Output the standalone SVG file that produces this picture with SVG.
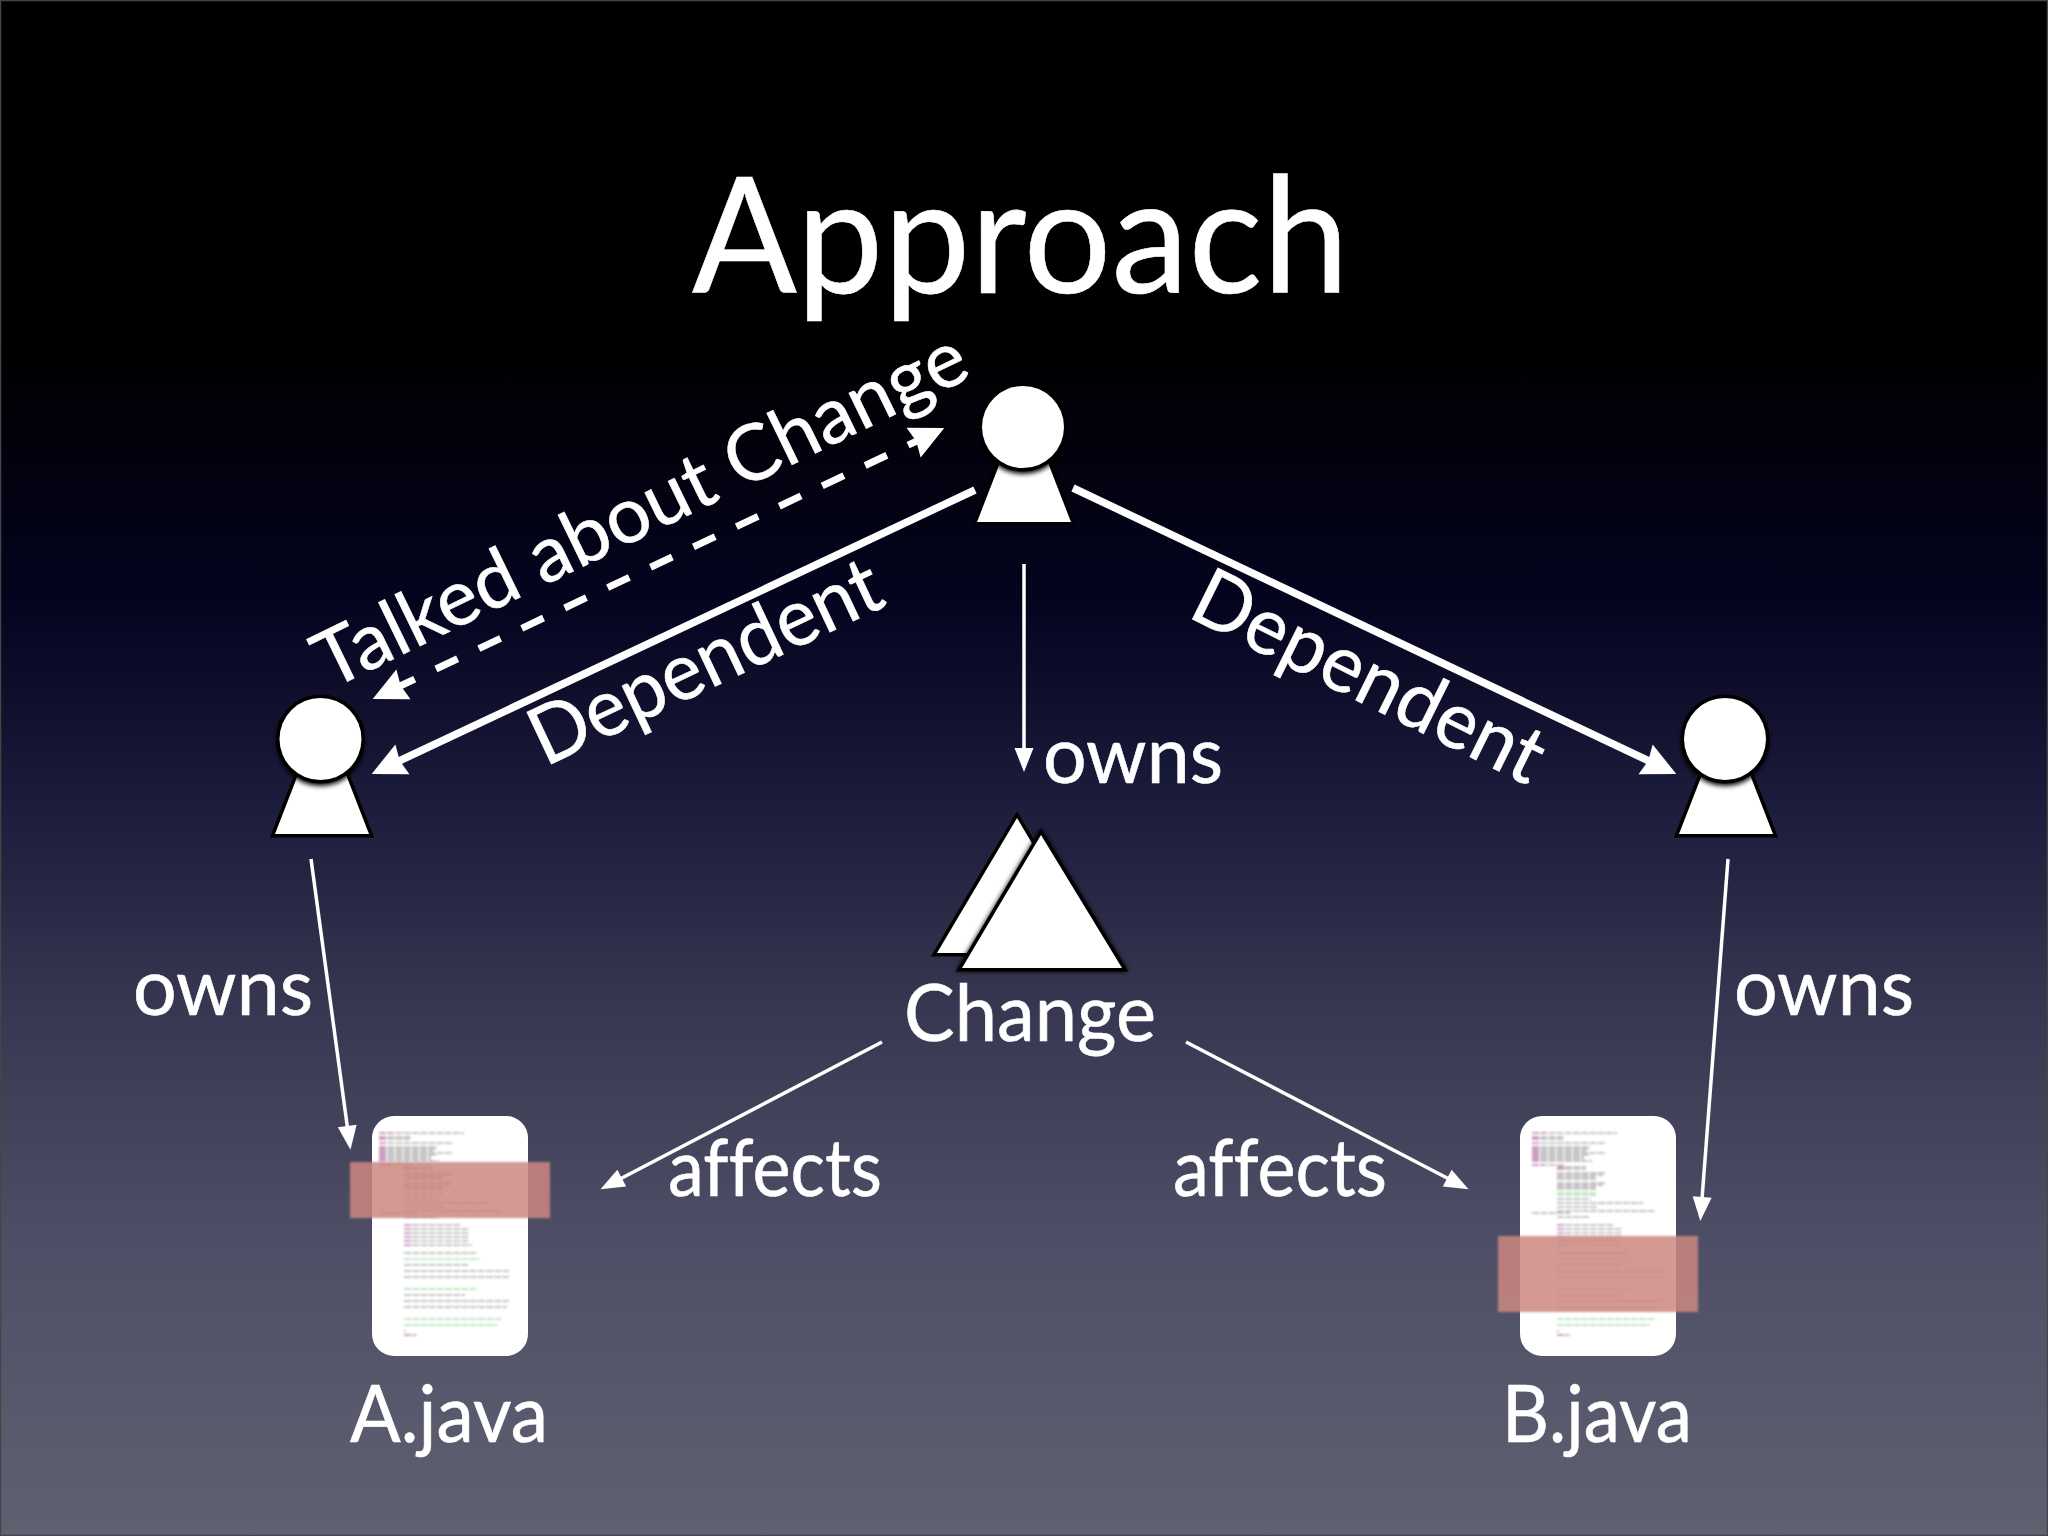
<svg xmlns="http://www.w3.org/2000/svg" width="2048" height="1536" viewBox="0 0 2048 1536">
<style>
text{font-family:"Lato","Liberation Sans",sans-serif;fill:#fff;font-variant-ligatures:none;stroke:#fff;stroke-width:.6}
.t{font-size:80px}
.p{fill:#fff;stroke:#000;stroke-width:7;stroke-linejoin:miter;paint-order:stroke}
.g{fill:#000;stroke:#000;stroke-width:7}
.c{fill:none;stroke:#fff;stroke-linecap:butt}
.b{stroke-width:7.500}
.n{stroke-width:3.500}
.d{stroke-width:7;stroke-dasharray:24 23.5;stroke-dashoffset:5.5}
.code{fill:none;stroke-width:.9;stroke-dasharray:7 1.2;opacity:.75}
</style>
<defs>
<linearGradient id="bg" x1="0" y1="0" x2="0" y2="1">
<stop offset="0" stop-color="#000"/><stop offset=".22" stop-color="#000"/><stop offset=".39" stop-color="#04041f"/><stop offset=".52" stop-color="#1b1b3b"/><stop offset=".65" stop-color="#363650"/><stop offset=".81" stop-color="#4e4f66"/><stop offset="1" stop-color="#5f6070"/>
</linearGradient>
<filter id="soft" x="-5%" y="-5%" width="110%" height="110%"><feGaussianBlur stdDeviation="1"/></filter>
<filter id="sh" x="-20%" y="-20%" width="140%" height="140%"><feGaussianBlur stdDeviation="2.500"/></filter>
<marker id="big" markerUnits="userSpaceOnUse" markerWidth="44" markerHeight="40" viewBox="-10 -20 44 40" refX="0" refY="0" orient="auto-start-reverse"><path d="M-6,-16.500L28,0L-6,16.500L-3,0Z" fill="#fff"/></marker>
<marker id="small" markerUnits="userSpaceOnUse" markerWidth="32" markerHeight="26" viewBox="-6 -13 32 26" refX="0" refY="0" orient="auto"><path d="M-2,-9.500L22,0L-2,9.500Z" fill="#fff"/></marker>
<g id="code" class="code" filter="url(#soft)">
<path stroke="#555" d="M1532 1133H1617M1532 1137H1564M1532 1139H1563M1532 1143H1605M1532 1147H1590M1532 1149H1590M1532 1151H1586M1532 1153H1605M1532 1155H1590M1532 1157H1584M1532 1159H1584M1532 1161H1592M1532 1165H1565M1557 1167H1586M1557 1169H1586M1557 1173H1605M1557 1175H1603M1557 1177H1595M1557 1179H1596M1557 1183H1605M1557 1185H1603M1557 1187H1596M1557 1189H1596M1557 1199H1591M1557 1203H1643M1557 1207H1598M1557 1211H1655M1532 1213H1570M1557 1217H1590M1557 1225H1613M1557 1229H1622M1557 1233H1622M1557 1237H1622M1557 1241H1622M1557 1245H1625M1557 1253H1629M1557 1265H1622M1557 1271H1662M1557 1277H1662M1557 1295H1618M1557 1301H1662M1557 1307H1660M1557 1331H1559M1557 1335H1570"/>
<path stroke="#4db84d" d="M1557 1193H1596M1557 1195H1596M1557 1259H1633M1557 1289H1630M1557 1319H1655M1557 1325H1650"/>
<path stroke="#c63ea8" d="M1532 1133H1546M1532 1137H1540M1532 1139H1540M1532 1143H1540M1532 1147H1540M1532 1149H1540M1532 1151H1540M1532 1153H1540M1532 1155H1540M1532 1157H1540M1532 1159H1540M1532 1161H1540M1532 1165H1544M1557 1167H1566M1557 1169H1566M1557 1225H1566M1557 1229H1566M1557 1233H1566M1557 1237H1566M1557 1241H1566M1557 1245H1566M1557 1335H1566"/>
</g>
</defs>
<rect id="background" width="2048" height="1536" fill="url(#bg)"/>
<rect id="frame" x=".5" y=".5" width="2047" height="1535" fill="none" stroke="#454545" stroke-width="1.500"/>
<text id="title" x="692" y="293" font-size="162" textLength="657" lengthAdjust="spacingAndGlyphs">Approach</text>

<g id="connectors">
<path class="c b" d="M975 490L397 762" marker-end="url(#big)"/>
<path class="c b" d="M1073 488L1651 762" marker-end="url(#big)"/>
<path class="c d" d="M398 687L919 440" marker-start="url(#big)" marker-end="url(#big)"/>
<path class="c n" d="M1024 564V750" marker-end="url(#small)"/>
<path class="c n" d="M311 859L347.500 1128" marker-end="url(#small)"/>
<path class="c n" d="M1728 859L1702 1199" marker-end="url(#small)"/>
<path class="c n" d="M882 1042L620 1179" marker-end="url(#small)"/>
<path class="c n" d="M1186 1042L1449 1179" marker-end="url(#small)"/>
</g>

<g id="person-top"><path class="p" d="M1024 401L1071 522H977Z"/><circle cx="1023" cy="430" r="44" filter="url(#sh)"/><circle class="p" cx="1023" cy="427" r="41"/></g>
<g id="person-left"><path class="p" d="M322 713L369 834H275Z"/><circle cx="320.500" cy="742" r="44" filter="url(#sh)"/><circle class="p" cx="320.500" cy="739" r="41"/></g>
<g id="person-right"><path class="p" d="M1726 713L1773 834H1679Z"/><circle cx="1725" cy="742" r="44" filter="url(#sh)"/><circle class="p" cx="1725" cy="739" r="41"/></g>

<g id="change">
<path class="p" d="M1017 818L1097 953H937Z"/>
<path class="g" d="M1041 835L1122 968H962Z" filter="url(#sh)"/>
<path class="p" d="M1041 835L1122 968H962Z"/>
<text class="t" x="904" y="1041" textLength="252" lengthAdjust="spacingAndGlyphs">Change</text>
</g>

<g id="file-a">
<rect x="372" y="1116" width="156" height="240" rx="22" fill="#fff"/>
<use href="#code" transform="translate(-1153 0)"/>
<rect x="350" y="1162" width="200" height="56" fill="#cd8780" fill-opacity=".85" filter="url(#soft)"/>
<text class="t" x="350" y="1442" textLength="198" lengthAdjust="spacingAndGlyphs">A.java</text>
</g>
<g id="file-b">
<rect x="1520" y="1116" width="156" height="240" rx="22" fill="#fff"/>
<use href="#code"/>
<rect x="1498" y="1236" width="200" height="76" fill="#cd8780" fill-opacity=".85" filter="url(#soft)"/>
<text class="t" x="1502" y="1442" textLength="190" lengthAdjust="spacingAndGlyphs">B.java</text>
</g>

<g id="labels">
<text class="t" x="1043" y="783" textLength="180" lengthAdjust="spacingAndGlyphs">owns</text>
<text class="t" x="133" y="1015" textLength="180" lengthAdjust="spacingAndGlyphs">owns</text>
<text class="t" x="1734" y="1015" textLength="180" lengthAdjust="spacingAndGlyphs">owns</text>
<text class="t" x="668" y="1196" textLength="214" lengthAdjust="spacingAndGlyphs">affects</text>
<text class="t" x="1173" y="1196" textLength="214" lengthAdjust="spacingAndGlyphs">affects</text>
<text transform="translate(330 690) rotate(-26)" textLength="716" lengthAdjust="spacingAndGlyphs" style="font-size:78px">Talked about Change</text>
<text class="t" transform="translate(545 767) rotate(-25.3)" textLength="380" lengthAdjust="spacingAndGlyphs">Dependent</text>
<text class="t" transform="translate(1186 616) rotate(26.4)" textLength="382" lengthAdjust="spacingAndGlyphs">Dependent</text>
</g>
</svg>
